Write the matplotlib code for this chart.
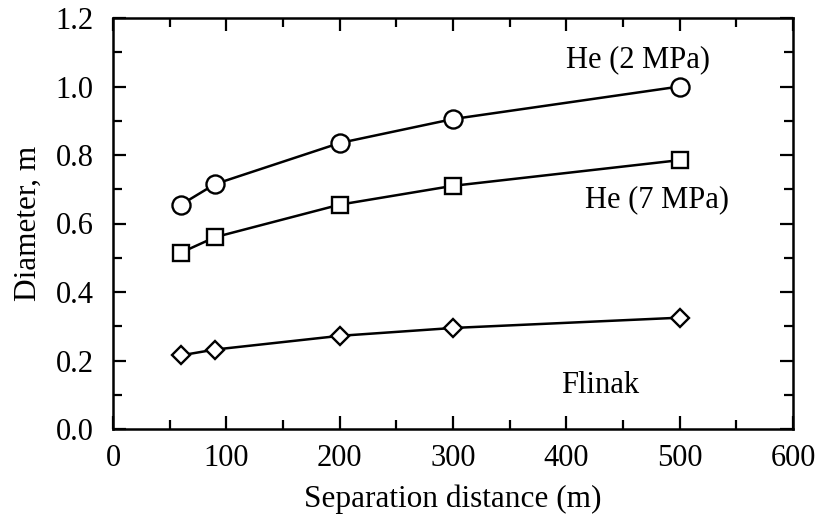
import matplotlib
matplotlib.use("Agg")
import matplotlib.pyplot as plt
from matplotlib.ticker import MultipleLocator

distance = [60, 90, 200, 300, 500]
he_2mpa = [0.655, 0.715, 0.835, 0.905, 1.0]
he_7mpa = [0.515, 0.56, 0.655, 0.71, 0.785]
flinak = [0.215, 0.232, 0.272, 0.295, 0.325]

plt.rcParams["font.family"] = ["Liberation Serif", "DejaVu Serif"]

fig = plt.figure(figsize=(8.18, 5.16), dpi=100)
ax = fig.add_axes([113 / 818, 1 - 429 / 516, (793 - 113) / 818, (429 - 18) / 516])

fs = 22
style = dict(color="black", lw=1.8, mfc="white", mec="black", mew=1.7)
ax.plot(distance, he_2mpa, marker="o", ms=13, **style)
ax.plot(distance, he_7mpa, marker="s", ms=11.5, **style)
ax.plot(distance, flinak, marker="D", ms=9.5, **style)

ax.text(463, 1.077, "He (2 MPa)", fontsize=fs, ha="center", va="center")
ax.text(480, 0.668, "He (7 MPa)", fontsize=fs, ha="center", va="center")
ax.text(430, 0.128, "Flinak", fontsize=fs, ha="center", va="center")

ax.set_xlim(0, 600)
ax.set_ylim(0, 1.2)
ax.xaxis.set_major_locator(MultipleLocator(100))
ax.xaxis.set_minor_locator(MultipleLocator(50))
ax.yaxis.set_major_locator(MultipleLocator(0.2))
ax.yaxis.set_minor_locator(MultipleLocator(0.1))
ax.yaxis.set_major_formatter(plt.FormatStrFormatter("%.1f"))

ax.tick_params(which="both", direction="in", top=True, right=True, width=1.6, labelsize=fs)
ax.tick_params(which="major", length=9.5)
ax.tick_params(which="minor", length=6.5)
ax.tick_params(axis="x", which="major", pad=11)
ax.tick_params(axis="y", which="major", pad=14)
for sp in ax.spines.values():
    sp.set_linewidth(1.8)

ax.set_xlabel("Separation distance (m)", fontsize=22.5, labelpad=8)
ax.set_ylabel("Diameter, m", fontsize=22.5, labelpad=9)

fig.savefig("out.png", dpi=100)
